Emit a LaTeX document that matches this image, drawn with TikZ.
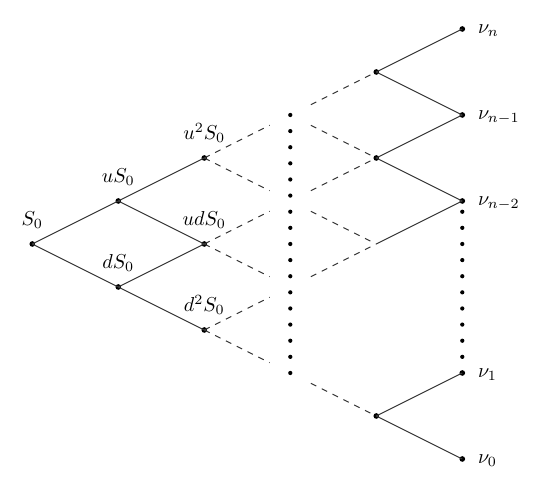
\documentclass[tikz,border=0pt]{standalone}
\usetikzlibrary{calc}
\begin{document}
\begin{tikzpicture}[x=1.5cm,y=0.75cm,
  dot/.style={circle,fill=black,inner sep=0pt,minimum size=2.8pt},
  edge/.style={draw=black!78,line width=0.5pt},
  dedge/.style={edge,dashed},
  toplab/.style={anchor=south,inner sep=0pt,yshift=7.3pt},
  rightlab/.style={anchor=base west,inner sep=0pt,xshift=7.6pt,yshift=-2.15pt}]
\useasboundingbox (-0.3756,-5.651) rectangle (5.9035,5.674);
% tree nodes
\node[dot] (S0) at (0,0) {};
\node[dot] (uS) at (1,1) {};
\node[dot] (dS) at (1,-1) {};
\node[dot] (uuS) at (2,2) {};
\node[dot] (udS) at (2,0) {};
\node[dot] (ddS) at (2,-2) {};
\node[dot] (r4) at (4,4) {};
\node[dot] (r2) at (4,2) {};
\coordinate (r0) at (4,0);
\node[dot] (rm4) at (4,-4) {};
\node[dot] (nun) at (5,5) {};
\node[dot] (nun1) at (5,3) {};
\node[dot] (nun2) at (5,1) {};
\node[dot] (nu1) at (5,-3) {};
\node[dot] (nu0) at (5,-5) {};
% labels
\node[toplab] (lS0) at (S0) {$S_0$};
\node[toplab] (luS) at (uS) {$uS_0$};
\node[toplab] (ldS) at (dS) {$dS_0$};
\node[toplab] (luuS) at (uuS) {$u^2S_0$};
\node[toplab] (ludS) at (udS) {$udS_0$};
\node[toplab] (lddS) at (ddS) {$d^2S_0$};
\node[rightlab] (lnun) at (nun) {$\nu_n$};
\node[rightlab] (lnun1) at (nun1) {$\nu_{n-1}$};
\node[rightlab] (lnun2) at (nun2) {$\nu_{n-2}$};
\node[rightlab] (lnu1) at (nu1) {$\nu_1$};
\node[rightlab] (lnu0) at (nu0) {$\nu_0$};
% solid edges
\draw[edge] (S0.center) -- (uS.center);
\draw[edge] (S0.center) -- (dS.center);
\draw[edge] (uS.center) -- (uuS.center);
\draw[edge] (uS.center) -- (udS.center);
\draw[edge] (dS.center) -- (udS.center);
\draw[edge] (dS.center) -- (ddS.center);
\draw[edge] (r4.center) -- (nun.center);
\draw[edge] (r4.center) -- (nun1.center);
\draw[edge] (r2.center) -- (nun1.center);
\draw[edge] (r2.center) -- (nun2.center);
\draw[edge] (r0) -- (nun2.center);
\draw[edge] (rm4.center) -- (nu1.center);
\draw[edge] (rm4.center) -- (nu0.center);
% dashed ends
\coordinate (a1) at (2.76,2.76);
\coordinate (a2) at (2.76,1.24);
\coordinate (a3) at (2.76,0.76);
\coordinate (a4) at (2.76,-0.76);
\coordinate (a5) at (2.76,-1.24);
\coordinate (a6) at (2.76,-2.76);
\coordinate (b1) at (3.24,3.24);
\coordinate (b2) at (3.24,2.76);
\coordinate (b3) at (3.24,1.24);
\coordinate (b4) at (3.24,0.76);
\coordinate (b4e) at (3.945,0.055);
\coordinate (b5) at (3.24,-0.76);
\coordinate (b6) at (3.24,-3.24);
\draw[dedge] (uuS.center) -- (a1);
\draw[dedge] (uuS.center) -- (a2);
\draw[dedge] (udS.center) -- (a3);
\draw[dedge] (udS.center) -- (a4);
\draw[dedge] (ddS.center) -- (a5);
\draw[dedge] (ddS.center) -- (a6);
\draw[dedge] (b1) -- (r4.center);
\draw[dedge] (b2) -- (r2.center);
\draw[dedge] (b3) -- (r2.center);
\draw[dedge] (b4) -- (b4e);
\draw[dedge] (b5) -- (r0);
\draw[dedge] (b6) -- (rm4.center);
% dotted columns
\foreach \k in {0,...,16} \fill (3,3-0.375*\k) circle (1.05pt);
\foreach \k in {0,...,9} \fill (5,0.75-0.375*\k) circle (1.05pt);
\end{tikzpicture}
\end{document}
